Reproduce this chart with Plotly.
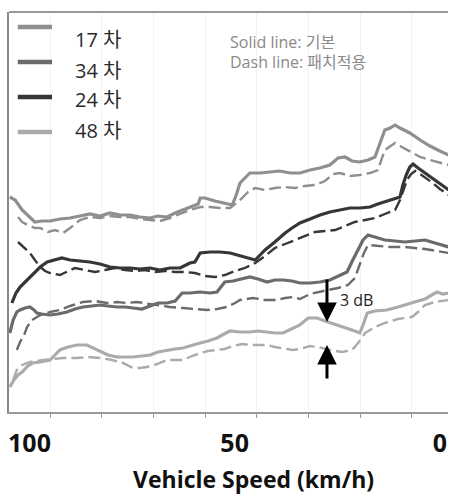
import plotly.graph_objects as go

# ---- data (speed in km/h, level in relative dB units) ----
s17_solid_x = [104.8,103.5,101.8,99.9,98.7,97.0,95.0,92.6,90.1,87.7,85.3,82.8,80.4,77.9,75.5,73.1,70.6,68.7,66.5,64.5,62.6,60.4,58.9,58.4,57.2,54.8,52.4,50.6,49.7,48.7,47.5,46.3,43.8,41.4,39.0,36.5,34.1,31.6,29.2,26.8,24.8,23.1,21.4,19.5,17.5,15.8,14.6,13.4,12.1,10.9,9.7,7.3,4.8,2.4,0.0,-2.2]
s17_solid_y = [53.75,53.0,50.5,48.5,47.5,47.75,47.75,48.25,48.5,49.0,49.5,49.0,49.75,49.25,49.25,48.75,48.5,49.0,48.75,49.75,50.5,51.5,52.0,53.5,53.5,52.75,52.25,51.75,54.0,57.25,58.5,59.75,59.75,60.0,60.25,59.75,59.75,60.5,61.0,61.75,63.5,63.75,62.75,62.5,63.0,63.75,67.25,70.5,71.0,71.75,71.0,69.75,68.0,66.5,65.25,64.25]

s17_dash_x = [102.8,101.8,100.4,98.7,97.4,95.5,93.8,91.8,90.1,87.7,85.3,82.8,80.4,77.9,75.5,73.1,70.6,68.2,65.8,63.3,60.9,58.4,56.0,53.6,51.1,48.7,46.7,45.0,42.6,40.2,37.7,35.3,32.9,30.4,28.0,26.0,24.3,21.9,19.5,17.0,15.1,13.4,12.1,10.9,9.7,7.3,4.8,2.4,0.0,-2.2]
s17_dash_y = [48.75,47.5,46.75,46.0,46.0,45.0,45.5,44.75,46.0,48.0,48.75,48.5,49.0,48.75,48.75,48.25,48.0,47.75,48.5,49.5,50.5,51.25,51.25,51.0,51.0,53.0,55.0,56.0,55.5,56.0,56.25,56.0,56.5,56.75,57.75,59.5,59.75,59.0,59.25,59.75,60.5,65.5,66.5,67.25,66.5,65.25,63.75,63.0,62.25,61.75]

s24_solid_x = [104.3,103.3,102.3,101.1,99.9,98.7,97.4,95.7,93.8,92.1,90.1,87.7,85.3,82.8,80.4,77.9,75.5,73.1,70.6,68.2,65.8,63.3,60.9,59.7,58.4,56.0,53.6,51.1,48.7,46.3,45.0,43.8,42.6,40.2,37.7,36.0,34.1,31.6,29.2,26.8,24.3,21.9,19.5,17.0,15.1,13.4,10.9,9.7,9.0,8.2,7.3,6.5,5.3,3.6,1.9,0.0,-2.2]
s24_solid_y = [27.25,29.75,31.25,32.5,33.75,35.0,36.25,37.5,38.0,38.5,38.0,37.75,37.5,37.0,36.25,36.0,36.0,35.75,36.0,35.5,36.0,36.0,37.25,37.5,39.75,40.0,40.0,39.75,39.0,38.25,38.0,39.25,40.5,42.5,44.75,46.0,47.25,48.25,49.25,50.0,50.5,51.0,51.0,51.25,52.0,52.5,53.25,53.75,56.75,59.25,61.25,62.0,61.0,59.75,58.5,57.0,55.5]

s24_dash_x = [102.8,101.3,99.9,98.7,97.4,96.2,95.0,92.6,90.6,88.9,86.5,84.0,81.6,79.2,76.7,74.3,71.9,69.4,67.0,64.5,62.1,59.7,57.2,54.8,52.4,49.9,47.5,45.0,42.6,40.2,37.7,35.3,32.9,30.4,28.0,25.5,23.1,20.7,18.2,15.8,13.4,10.9,9.7,8.7,8.0,7.0,6.0,4.8,3.1,1.7,0.0,-2.2]
s24_dash_y = [42.5,41.0,39.75,38.0,36.25,35.25,34.75,34.25,35.25,36.0,35.5,35.0,35.5,36.0,35.5,35.25,35.5,35.0,35.25,35.0,35.0,34.75,34.0,33.75,34.25,35.25,36.0,37.25,39.0,41.0,42.0,43.0,44.0,45.0,45.25,45.5,46.5,47.5,48.0,48.5,49.5,50.5,53.0,56.0,58.0,59.5,60.25,59.5,58.25,57.25,55.75,54.25]

s34_solid_x = [104.8,104.0,103.1,102.3,101.1,99.9,98.9,98.2,97.0,95.0,93.1,90.9,88.9,87.0,84.8,82.8,80.9,78.7,76.7,74.8,72.6,70.6,68.7,66.5,64.5,62.8,60.9,58.4,56.0,54.3,52.4,50.4,48.2,46.3,44.3,42.1,40.2,38.2,36.0,34.1,31.6,29.2,26.8,24.3,22.6,21.2,19.9,18.7,17.5,15.8,13.4,10.9,8.5,6.0,3.6,1.2,-2.2]
s34_solid_y = [19.75,23.0,25.0,25.5,26.0,26.25,25.5,24.75,24.5,24.25,24.5,25.0,25.75,26.25,26.5,26.75,26.5,26.25,26.25,26.0,25.75,26.5,27.25,27.25,27.75,29.75,29.75,30.0,29.75,30.0,32.5,32.75,33.25,33.75,33.25,32.5,33.0,33.0,32.75,32.25,32.25,32.5,33.0,34.25,35.0,38.0,40.5,43.0,44.25,43.75,43.0,42.75,42.5,42.75,43.0,42.25,41.25]

s34_dash_x = [103.1,102.3,101.3,100.6,99.4,97.4,95.0,92.6,90.1,87.0,84.0,81.1,78.7,76.2,73.8,72.3,70.6,68.2,65.8,62.6,59.7,56.7,54.3,51.9,49.9,48.7,45.5,42.6,39.7,37.7,35.8,34.1,31.6,29.7,27.3,24.8,22.4,20.7,19.5,18.5,17.5,15.1,12.1,8.5,6.0,3.6,0.7,-2.2]
s34_dash_y = [15.5,17.5,19.25,21.25,23.0,24.25,25.0,25.5,26.5,27.5,27.75,27.25,27.5,27.25,27.5,27.25,27.0,26.5,26.25,26.0,25.75,25.5,25.75,26.25,27.25,28.0,28.5,28.0,28.0,28.5,28.75,28.25,29.5,30.0,30.5,31.0,31.75,33.5,36.75,39.75,41.75,41.5,41.25,41.25,41.0,40.75,40.25,39.75]

s48_solid_x = [104.8,103.8,102.8,101.8,100.4,99.2,97.4,95.0,93.8,92.6,90.6,88.4,86.0,84.5,82.8,80.9,78.7,76.7,74.8,72.6,70.6,68.7,66.5,64.5,62.6,60.4,58.4,56.5,54.3,52.6,51.1,48.7,46.3,44.3,42.1,40.2,38.2,36.5,34.1,32.1,29.9,28.0,25.5,23.6,21.4,19.5,18.7,17.7,15.8,12.9,10.2,7.3,5.3,3.6,0.7,-0.8,-2.2]
s48_solid_y = [6.25,8.0,9.25,10.0,11.5,12.25,12.5,13.0,14.25,15.5,16.25,16.75,16.75,16.0,15.0,14.25,13.75,13.75,13.75,14.0,14.25,15.0,15.5,15.75,16.0,16.75,17.25,17.75,18.5,19.5,20.25,20.0,20.0,20.25,20.0,19.75,19.75,20.5,21.75,23.5,23.5,22.75,22.0,21.25,20.5,19.75,21.75,24.75,25.25,25.5,26.25,27.25,27.75,28.25,30.0,29.5,29.75]

s48_dash_x = [104.0,103.1,101.8,99.9,96.7,94.3,91.8,88.4,85.7,82.8,79.9,77.2,74.8,73.1,71.4,68.9,66.5,64.5,62.6,60.4,58.4,56.5,54.3,52.4,50.4,48.2,46.3,44.3,42.1,40.2,37.7,35.8,34.1,31.6,29.7,26.8,23.8,21.4,19.9,18.2,15.8,13.4,10.2,6.8,5.3,3.6,1.2,-2.2]
s48_dash_y = [8.0,10.5,11.75,12.5,13.0,13.25,13.5,13.5,13.75,13.5,13.0,12.25,11.0,11.0,11.25,12.0,13.0,13.0,13.0,14.0,14.75,15.25,15.5,15.75,16.5,17.0,16.75,16.75,16.75,16.25,15.75,15.5,15.75,16.5,16.25,15.5,15.0,15.5,17.25,19.75,21.25,22.25,23.25,23.75,25.0,26.75,27.5,28.0]

legend_names = ["17 차", "34 차", "24 차", "48 차"]
series_colors = ["#8f8f8f", "#6b6b6b", "#363636", "#ababab"]
x_ticks = [100, 50, 0]
x_minor_ticks = [95, 82.4, 69.8, 57.2, 44.6, 32, 19.4, 6.8]

solids = [(s17_solid_x, s17_solid_y), (s34_solid_x, s34_solid_y), (s24_solid_x, s24_solid_y), (s48_solid_x, s48_solid_y)]
dashes = [(s17_dash_x, s17_dash_y), (s34_dash_x, s34_dash_y), (s24_dash_x, s24_dash_y), (s48_dash_x, s48_dash_y)]

fig = go.Figure()
for (xs, ys), col, nm in zip(dashes, series_colors, legend_names):
    fig.add_trace(go.Scatter(x=xs, y=ys, mode="lines", name=nm + " 패치적용",
                             line=dict(color=col, width=2.4, dash="12px,5px"), showlegend=False))
for (xs, ys), col, nm in zip(solids, series_colors, legend_names):
    fig.add_trace(go.Scatter(x=xs, y=ys, mode="lines", name=nm,
                             line=dict(color=col, width=3.2), showlegend=False))

shapes = []
annotations = []
# custom legend
leg_line_y = [0.9625, 0.875, 0.7875, 0.70]
leg_text_y = [0.93, 0.855, 0.78, 0.705]
for i, (nm, col) in enumerate(zip(legend_names, series_colors)):
    shapes.append(dict(type="line", xref="paper", yref="paper", x0=0.02, x1=0.098,
                       y0=leg_line_y[i], y1=leg_line_y[i], line=dict(color=col, width=4.5)))
    annotations.append(dict(xref="paper", yref="paper", x=0.146, y=leg_text_y[i], text=nm,
                            showarrow=False, xanchor="left", yanchor="middle",
                            font=dict(family="Open Sans, Noto Sans CJK KR", size=20, color="#2a2a2a")))
# top frame line
shapes.append(dict(type="line", xref="paper", yref="paper", x0=0, x1=1, y0=1, y1=1,
                   line=dict(color="#777", width=1.5)))

annotations.append(dict(xref="paper", yref="paper", x=0.499, y=0.925, xanchor="left", yanchor="middle",
                        text="Solid line: 기본", showarrow=False,
                        font=dict(family="Open Sans, Noto Sans CJK KR", size=16, color="#8a8a8a")))
annotations.append(dict(xref="paper", yref="paper", x=0.499, y=0.875, xanchor="left", yanchor="middle",
                        text="Dash line: 패치적용", showarrow=False,
                        font=dict(family="Open Sans, Noto Sans CJK KR", size=16, color="#8a8a8a")))
# 3 dB arrows
annotations.append(dict(x=27.5, y=22.5, ax=27.5, ay=33.5, xref="x", yref="y", axref="x", ayref="y",
                        showarrow=True, arrowhead=2, arrowsize=1.3, arrowwidth=3, arrowcolor="#000", text=""))
annotations.append(dict(x=27.5, y=16.75, ax=27.5, ay=8.0, xref="x", yref="y", axref="x", ayref="y",
                        showarrow=True, arrowhead=2, arrowsize=1.3, arrowwidth=3, arrowcolor="#000", text=""))
annotations.append(dict(x=20.2, y=28.0, xref="x", yref="y", text="3 dB", showarrow=False,
                        font=dict(family="Open Sans", size=16, color="#222")))
# axis title
annotations.append(dict(xref="paper", yref="paper", x=0.556, y=-0.168, xanchor="center", yanchor="middle",
                        text="Vehicle Speed (km/h)", showarrow=False,
                        font=dict(family="Open Sans", size=23, color="#111", weight="bold")))

fig.update_layout(
    width=449, height=497,
    margin=dict(l=9, r=1, t=12, b=85),
    paper_bgcolor="white", plot_bgcolor="white",
    shapes=shapes, annotations=annotations,
    xaxis=dict(range=[105, -2], tickmode="array", tickvals=x_ticks, ticktext=[str(v) for v in x_ticks],
               ticks="", showgrid=False, zeroline=False,
               showline=True, linecolor="#999", linewidth=1.5,
               tickfont=dict(family="Open Sans", size=25, color="#111", weight="bold"),
               ticklabelstandoff=8,
               minor=dict(tickmode="array", tickvals=x_minor_ticks, ticks="outside", ticklen=4,
                          tickcolor="#999", showgrid=True, gridcolor="#f2f2f2", gridwidth=1)),
    yaxis=dict(range=[0, 100], showticklabels=False, ticks="", showgrid=False, zeroline=False,
               showline=True, linecolor="#888", linewidth=2),
)

fig.write_html("out.html")
